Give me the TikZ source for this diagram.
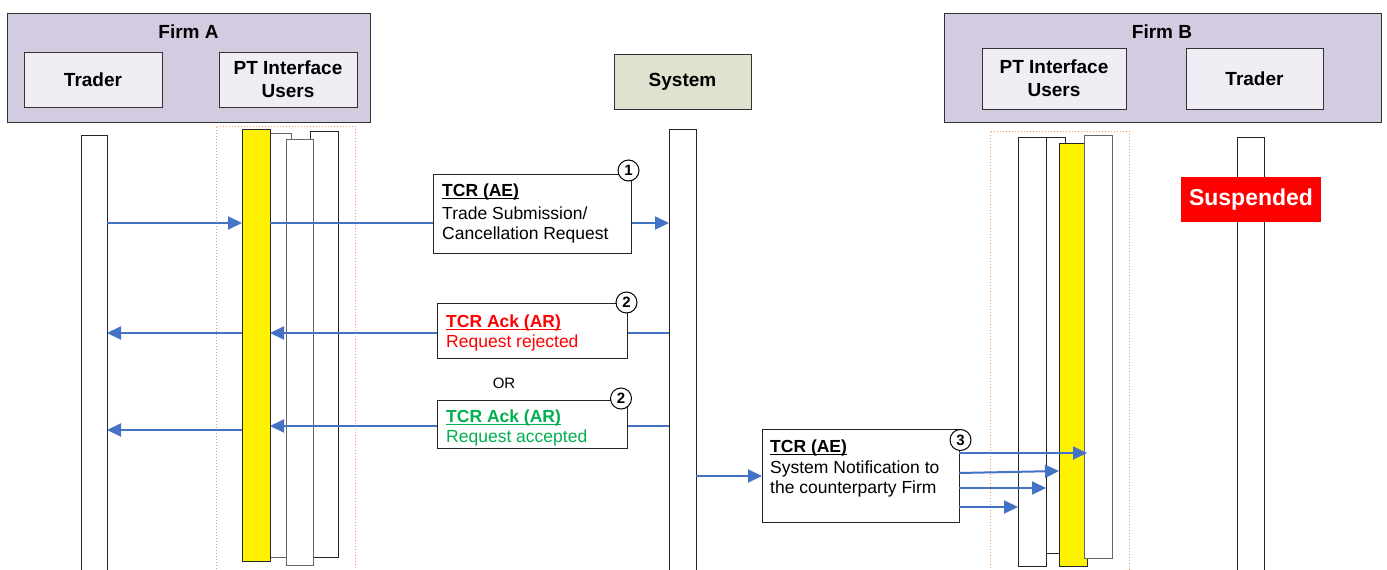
\documentclass[tikz,border=0pt]{standalone}
\usepackage{fontspec}
\setmainfont{Liberation Sans}
\usetikzlibrary{arrows.meta,calc}
\definecolor{firmfill}{RGB}{211,203,224}
\definecolor{innerfill}{RGB}{240,238,244}
\definecolor{sysfill}{RGB}{221,227,207}
\definecolor{arrowblue}{RGB}{68,114,196}
\definecolor{dotorange}{RGB}{240,150,90}
\definecolor{okgreen}{RGB}{0,176,80}
\definecolor{edgegray}{RGB}{50,50,50}
\newcommand\fsz[2]{\fontsize{#1}{#2}\selectfont}
\newlength\ulwd
\newcommand\myul[1]{\settowidth{\ulwd}{#1}\rlap{\rule[-2.4pt]{\ulwd}{1.3pt}}#1}
\begin{document}
\begin{tikzpicture}[x=1pt,y=-1pt,
  box/.style={draw=edgegray, line width=1pt, anchor=north west, inner sep=0pt, outer sep=0pt},
  firmbox/.style={box, fill=firmfill},
  headbox/.style={box, fill=innerfill, align=center, font=\fsz{19}{23}\bfseries, anchor=center},
  lifebox/.style={box, draw=black!85, line width=0.9pt, fill=white},
  actbox/.style={box, draw=black!85, line width=0.9pt, fill=yellow},
  dotbox/.style={box, draw=dotorange, dotted, line width=1pt},
  msgbox/.style={box, draw=black!85, line width=1pt, fill=white},
  msgtext/.style={anchor=north west, inner sep=0pt, align=left, font=\fsz{17.5}{20}},
  numc/.style={circle, draw=black, line width=1pt, fill=white, minimum size=21pt, inner sep=0pt, font=\fsz{15}{15}\bfseries},
  msg/.style={draw=arrowblue, line width=2pt, -{Triangle[length=14pt,width=13pt]}},
  title/.style={anchor=base, inner sep=0pt, font=\fsz{19}{23}\bfseries}
]
\useasboundingbox (0,0) rectangle (1387,570);
\fill[white] (0,0) rectangle (1387,570);

% ---------- Firm A header ----------
\node[firmbox, minimum width=363pt, minimum height=109pt] (firmA) at (7,13) {};
\node[title] (ttlA) at (188.5,38) {Firm A};
\node[headbox, minimum width=138pt, minimum height=55pt] (hTrA) at (93,79.5) {Trader};
\node[headbox, minimum width=138pt, minimum height=55pt] (hPtA) at (288,79.5) {PT Interface\\Users};

% ---------- System header ----------
\node[headbox, fill=sysfill, minimum width=137pt, minimum height=55pt] (hSys) at (682.5,81.5) {System};

% ---------- Firm B header ----------
\node[firmbox, minimum width=437pt, minimum height=109pt] (firmB) at (944,13) {};
\node[title] (ttlB) at (1162,38) {Firm B};
\node[headbox, minimum width=144pt, minimum height=61pt] (hPtB) at (1054,78.5) {PT Interface\\Users};
\node[headbox, minimum width=137pt, minimum height=61pt] (hTrB) at (1254.5,78.5) {Trader};

% ---------- Lifelines ----------
\node[lifebox, minimum width=26pt, minimum height=445pt] (lTrA) at (81,135) {};
\node[dotbox, minimum width=139pt, minimum height=450pt] (dotA) at (216,126) {};
\node[lifebox, draw=black!60, minimum width=31pt, minimum height=424pt] (aR1) at (260,133) {};
\node[lifebox, minimum width=28pt, minimum height=426pt] (aR3) at (310,131) {};
\node[lifebox, draw=black!60, minimum width=27pt, minimum height=426pt] (aR2) at (286,139) {};
\node[actbox, minimum width=28pt, minimum height=432pt] (yA) at (242,129) {};

\node[lifebox, minimum width=27pt, minimum height=450pt] (sysL) at (669,129) {};

\node[dotbox, minimum width=139pt, minimum height=450pt] (dotB) at (990,131) {};
\node[lifebox, minimum width=19pt, minimum height=416pt] (bRb) at (1046,137) {};
\node[lifebox, minimum width=28pt, minimum height=429pt] (bRa) at (1018,137) {};
\node[actbox, minimum width=28pt, minimum height=423pt] (yB) at (1059,143) {};
\node[lifebox, draw=black!60, minimum width=28pt, minimum height=423pt] (bRc) at (1084,135) {};

\node[lifebox, minimum width=27pt, minimum height=445pt] (lTrB) at (1237,137) {};
\node[box, draw=none, fill=red, minimum width=140pt, minimum height=45pt, text=white, font=\fsz{23}{23}\bfseries, anchor=center] (susp) at (1251,199.5) {Suspended};

% ---------- Row coordinates ----------
\coordinate (r1) at (0,223);
\coordinate (r2) at (0,333);
\coordinate (r3r) at (0,426);
\coordinate (r3l) at (0,430);
\coordinate (r4) at (0,476);
\coordinate (o1) at (0,453);
\coordinate (o2s) at (0,473);
\coordinate (o2e) at (0,471);
\coordinate (o3) at (0,488);
\coordinate (o4) at (0,507);

% ---------- Arrows (behind message boxes) ----------
\draw[msg] (lTrA.east |- r1) -- (yA.west |- r1);
\draw[msg] (yA.east |- r1) -- (sysL.west |- r1);
\draw[msg] (sysL.west |- r2) -- (yA.east |- r2);
\draw[msg] (yA.west |- r2) -- (lTrA.east |- r2);
\draw[msg] (sysL.west |- r3r) -- (yA.east |- r3r);
\draw[msg] (yA.west |- r3l) -- (lTrA.east |- r3l);

% ---------- Message boxes ----------
\node[msgbox, minimum width=198pt, minimum height=79pt] (m1) at (433,174) {};
\node[msgtext] (t1) at ($(m1.north west)+(9,10)$) {\textbf{\myul{TCR (AE)}}\\[3pt]Trade Submission/\\Cancellation Request};
\node[numc] (c1) at (628.5,170.5) {1};

\node[msgbox, minimum width=190pt, minimum height=55pt] (m2) at (437,303) {};
\node[msgtext, text=red] (t2) at ($(m2.north west)+(9,12)$) {\textbf{\myul{TCR Ack (AR)}}\\Request rejected};
\node[numc] (c2) at (626.5,302.5) {2};

\node[anchor=base, inner sep=0pt, font=\fsz{15}{15}] (or) at (504,388) {OR};

\node[msgbox, minimum width=190pt, minimum height=48pt] (m3) at (437,400) {};
\node[msgtext, text=okgreen] (t3) at ($(m3.north west)+(9,10)$) {\textbf{\myul{TCR Ack (AR)}}\\Request accepted};
\node[numc] (c3) at (621,398.5) {2};

\node[msgbox, minimum width=197pt, minimum height=93pt] (m4) at (762,429) {};
\node[msgtext] (t4) at ($(m4.north west)+(8,11)$) {\textbf{\myul{TCR (AE)}}\\[1pt]System Notification to\\the counterparty Firm};
\node[numc] (c4) at (960.5,440) {3};

% ---------- Notification arrows ----------
\draw[msg] (sysL.east |- r4) -- (m4.west |- r4);
\draw[msg] (m4.east |- o1) -- (yB.east |- o1);
\draw[msg] (m4.east |- o2s) -- (yB.west |- o2e);
\draw[msg] (m4.east |- o3) -- (bRa.east |- o3);
\draw[msg] (m4.east |- o4) -- (bRa.west |- o4);
\end{tikzpicture}
\end{document}
